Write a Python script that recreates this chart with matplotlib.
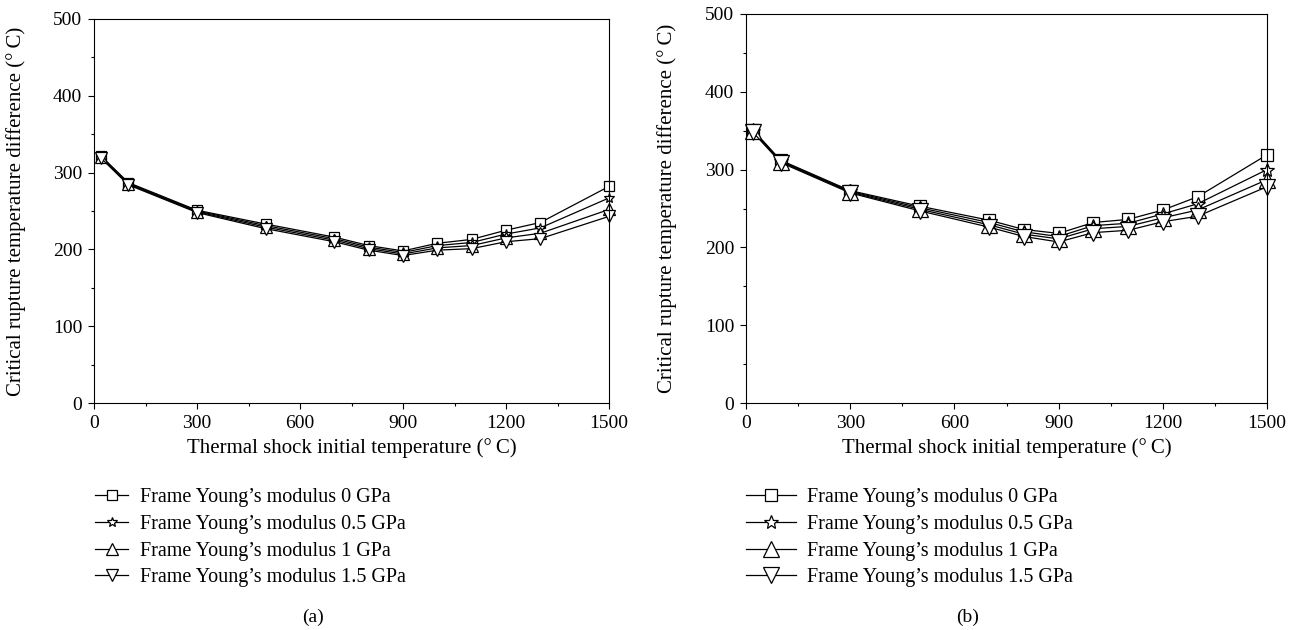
import matplotlib
matplotlib.use("Agg")
import matplotlib.pyplot as plt
from matplotlib.ticker import MultipleLocator

plt.rcParams['font.family'] = ['Liberation Serif', 'DejaVu Serif']
plt.rcParams['axes.linewidth'] = 0.8

# thermal shock initial temperature (C)
temps = [20, 100, 300, 500, 700, 800, 900, 1000, 1100, 1200, 1300, 1500]

labels = ['Frame Young\u2019s modulus 0 GPa',
          'Frame Young\u2019s modulus 0.5 GPa',
          'Frame Young\u2019s modulus 1 GPa',
          'Frame Young\u2019s modulus 1.5 GPa']

# panel (a)
a_0 = [322, 287, 251, 233, 216, 205, 198, 208, 213, 225, 235, 282]
a_05 = [321, 286, 250, 231, 214, 203, 196, 205, 209, 220, 228, 267]
a_1 = [320, 285, 249, 229, 212, 201, 194, 202, 205, 215, 221, 252]
a_15 = [319, 284, 248, 227, 210, 199, 192, 199, 201, 210, 214, 243]

# panel (b)
b_0 = [351, 312, 273, 253, 235, 223, 218, 232, 236, 248, 265, 319]
b_05 = [350, 311, 272, 251, 232, 220, 214, 228, 231, 243, 256, 300]
b_1 = [349, 310, 271, 249, 229, 217, 211, 224, 227, 238, 248, 287]
b_15 = [348, 309, 270, 247, 226, 214, 207, 219, 222, 233, 240, 278]

markers = ['s', '*', '^', 'v']

W, H = 1299, 630
fig = plt.figure(figsize=(W / 100, H / 100), dpi=100)
# axes boxes in pixels: left, top, right, bottom
ax_a = fig.add_axes([94 / W, 1 - 403 / H, (609 - 94) / W, (403 - 19) / H])
ax_b = fig.add_axes([746 / W, 1 - 403 / H, (1267 - 746) / W, (403 - 14) / H])


def draw(ax, series, sizes, hlen, tpad, leg_px, tag, tag_px):
    for vals, m, ms, lab in zip(series, markers, sizes, labels):
        ax.plot(temps, vals, color='black', lw=0.9, marker=m, ms=ms,
                markerfacecolor='white', markeredgecolor='black',
                markeredgewidth=0.9, label=lab, clip_on=False)
    ax.set_xlim(0, 1500)
    ax.set_ylim(0, 500)
    ax.xaxis.set_major_locator(MultipleLocator(300))
    ax.xaxis.set_minor_locator(MultipleLocator(150))
    ax.yaxis.set_major_locator(MultipleLocator(100))
    ax.yaxis.set_minor_locator(MultipleLocator(50))
    ax.tick_params(which='major', direction='out', length=4.5, width=0.8,
                   pad=4, labelsize=14)
    ax.tick_params(which='minor', direction='out', length=2.5, width=0.8)
    ax.set_xlabel('Thermal shock initial temperature (\u00b0\u2009C)',
                  fontsize=15, labelpad=4.5)
    ax.set_ylabel('Critical rupture temperature difference (\u00b0\u2009C)',
                  fontsize=15)
    ax.yaxis.set_label_coords(-0.133, 0.5)
    ax.legend(loc='upper left', bbox_to_anchor=(leg_px / W, 1 - 488 / H),
              bbox_transform=fig.transFigure, frameon=False,
              handlelength=hlen, handletextpad=tpad, labelspacing=0.38,
              borderpad=0, borderaxespad=0, fontsize=14.5)
    fig.text(tag_px / W, 1 - 617 / H, tag, ha='center', va='center',
             fontsize=14)


draw(ax_a, [a_0, a_05, a_1, a_15], [6.5, 7.5, 8.5, 8.5], 1.65, 0.6, 95, '(a)', 313)
draw(ax_b, [b_0, b_05, b_1, b_15], [8.5, 10.5, 11, 11], 2.5, 0.53, 746, '(b)', 968)

fig.savefig('out.png', dpi=100)
